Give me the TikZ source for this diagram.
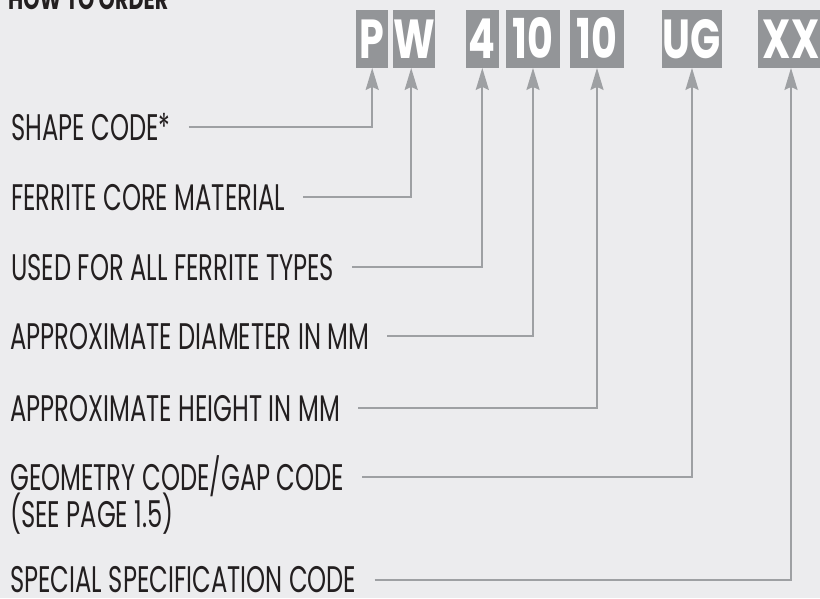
\documentclass[tikz,border=0pt]{standalone}
\usepackage{fontspec}
\usetikzlibrary{arrows.meta}
\newfontfamily\lblfont[FakeStretch=0.655]{Poppins}
\newfontfamily\boxfont[FakeStretch=0.72]{Poppins}
\newfontfamily\ttlfont[FakeStretch=0.74]{Poppins}
\definecolor{bgcol}{RGB}{236,236,238}
\definecolor{boxcol}{RGB}{147,149,152}
\definecolor{linecol}{RGB}{158,160,163}
\definecolor{txtcol}{RGB}{35,31,32}
\tikzset{
  lbl/.style={anchor=base west, inner sep=0pt, text height=26pt, text depth=0pt,
    font=\lblfont\fontsize{37}{37}\selectfont, text=txtcol},
  codebox/.style={rectangle, fill=boxcol, inner sep=0pt, minimum height=57.7pt,
    text=white, font=\boxfont\bfseries\fontsize{55}{55}\selectfont, text height=39pt, text depth=0pt},
  conn/.style={draw=linecol, line width=2pt,
    -{Stealth[length=22pt, width=13pt, inset=3pt]}},
  title/.style={anchor=base west, inner sep=0pt, text=txtcol,
    font=\ttlfont\bfseries\fontsize{28}{28}\selectfont}
}
\begin{document}
\begin{tikzpicture}[x=1pt,y=-1pt]
\useasboundingbox (0,0) rectangle (820,598);
\fill[bgcol] (0,0) rectangle (820,598);

\node[title] (ttl) at (8,9) {HOW TO ORDER};

% code boxes
\node[codebox, minimum width=32.3pt] (bP)  at (372.2,38.85) {P};
\node[codebox, minimum width=38.3pt] (bW)  at (414.2,38.85) {W};
\node[codebox, minimum width=32.7pt] (b4)  at (482.3,38.85) {4};
\node[codebox, minimum width=54pt]   (b10a) at (533,38.85) {10};
\node[codebox, minimum width=54pt]   (b10b) at (597,38.85) {10};
\node[codebox, minimum width=60.6pt] (bUG) at (692,38.85) {UG};
\node[codebox, minimum width=65.4pt] (bXX) at (791,38.85) {XX};

% labels
\node[lbl] (lshape) at (11,140) {SHAPE CODE*};
\node[lbl] (lferr)  at (11,210) {FERRITE CORE MATERIAL};
\node[lbl] (lused)  at (11,280) {USED FOR ALL FERRITE TYPES};
\node[lbl] (ldiam)  at (10,349) {APPROXIMATE DIAMETER IN MM};
\node[lbl] (lheig)  at (10,421) {APPROXIMATE HEIGHT IN MM};
\node[lbl] (lgeo)   at (10,490) {GEOMETRY CODE/GAP CODE};
\node[lbl] (lsee)   at (10,527) {(SEE PAGE 1.5)};
\node[lbl] (lspec)  at (10,592.5) {SPECIAL SPECIFICATION CODE};

% connectors
\draw[conn] ([xshift=18pt]lshape.east) -| (bP.south);
\draw[conn] ([xshift=18pt]lferr.east) -| ([xshift=-3pt]bW.south);
\draw[conn] ([xshift=18pt]lused.east) -| (b4.south);
\draw[conn] ([xshift=18pt]ldiam.east) -| (b10a.south);
\draw[conn] ([xshift=18pt]lheig.east) -| (b10b.south);
\draw[conn] ([xshift=18pt]lgeo.east) -| (bUG.south);
\draw[conn] ([xshift=18pt]lspec.east) -| (bXX.south);
\end{tikzpicture}
\end{document}
